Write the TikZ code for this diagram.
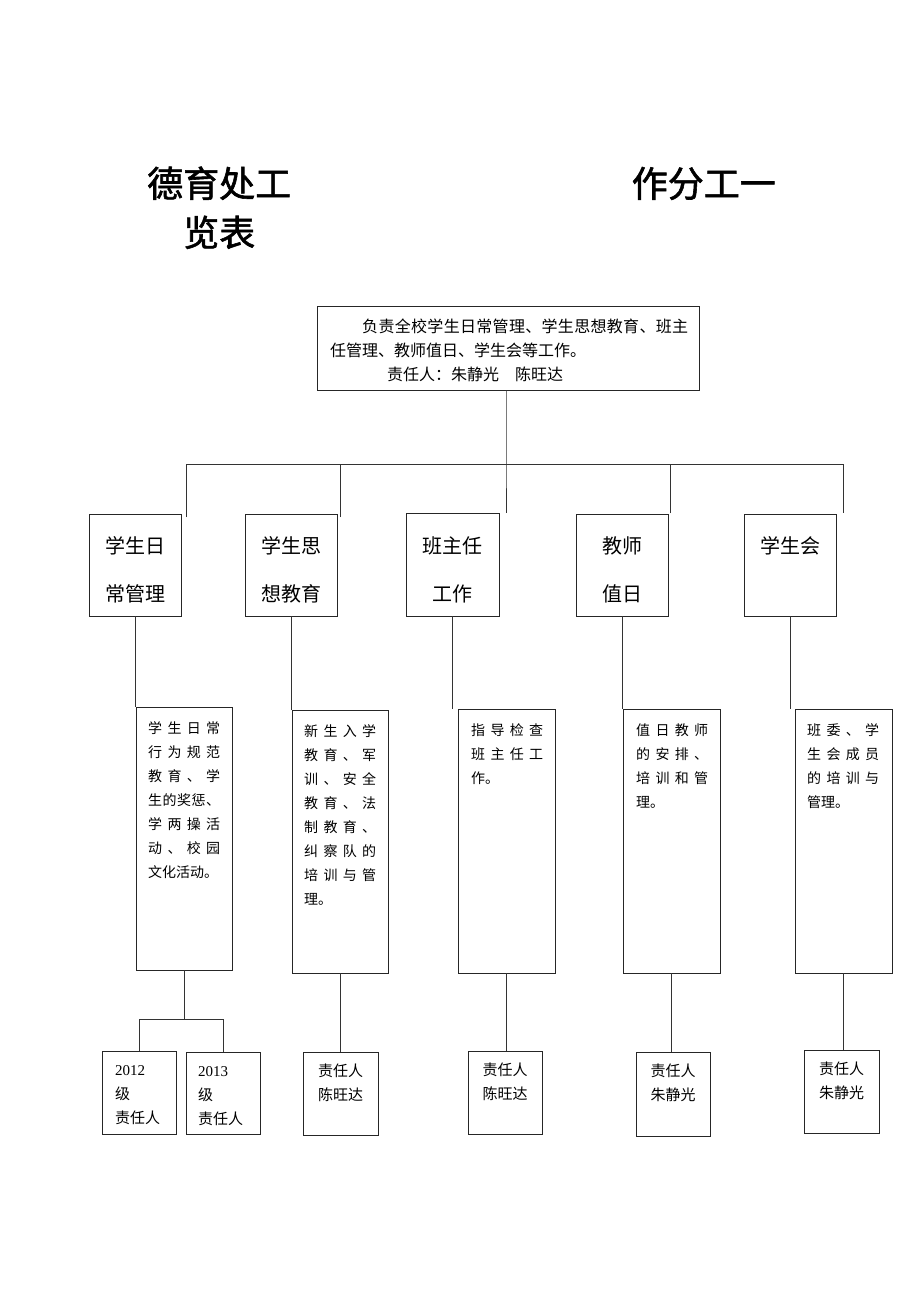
\documentclass[tikz,border=0pt]{standalone}
\usepackage{fontspec}
\setmainfont{Liberation Serif}
\newfontfamily\cjk{Noto Sans CJK SC}
\newfontfamily\cjkt[FakeBold=1.6]{Noto Sans CJK SC}
\makeatletter
\newcommand\jl[2]{\hbox to #1{\def\jl@sep{}\@tfor\jl@c:=#2\do{\jl@sep\jl@c\def\jl@sep{\hfil}}}}
\makeatother
\newcommand\jj[1]{\jl{72pt}{#1}}
\newcommand\bx[5]{\node[box, minimum width={#4-#2}, minimum height={#5-#3}] (#1) at ({(#2+#4)/2},{(#3+#5)/2}) {};}
\begin{document}
\begin{tikzpicture}[x=1pt,y=-1pt,
  box/.style={draw=black!85, line width=1pt, inner sep=0pt, outer sep=0pt},
  ln/.style={draw=black!80, line width=1pt},
  ttl/.style={font=\cjkt\fontsize{36}{40}\selectfont, inner sep=0pt},
  toptxt/.style={font=\cjk\fontsize{16}{24}\selectfont, inner sep=0pt, anchor=base west},
  lvtwo/.style={font=\cjk\fontsize{20}{24}\selectfont, inner sep=0pt, anchor=base},
  lvthree/.style={font=\cjk\fontsize{14}{24}\selectfont, inner sep=0pt, anchor=base west},
  lvfour/.style={font=\cjk\fontsize{15}{24}\selectfont, inner sep=0pt},
]
\fill[white] (0,0) rectangle (920,1302);
\useasboundingbox (0,0) rectangle (920,1302);

% title
\node[ttl, anchor=base west] (ti1) at (147,197) {德育处工};
\node[ttl, anchor=base east] (ti2) at (776,197) {作分工一};
\node[ttl, anchor=base west] (ti3) at (183,246) {览表};

% boxes
\bx{T}{317}{306}{699}{390}
\bx{b1}{89}{514}{181}{616}
\bx{b2}{245}{514}{337}{616}
\bx{b3}{406}{513}{499}{616}
\bx{b4}{576}{514}{668}{616}
\bx{b5}{744}{514}{836}{616}
\bx{c1}{136}{707}{232}{970}
\bx{c2}{292}{710}{388}{973}
\bx{c3}{458}{709}{555}{973}
\bx{c4}{623}{709}{720}{973}
\bx{c5}{795}{709}{892}{973}
\bx{e1a}{102}{1051}{176}{1134}
\bx{e1b}{186}{1052}{260}{1134}
\bx{e2}{303}{1052}{378}{1135}
\bx{e3}{468}{1051}{542}{1134}
\bx{e4}{636}{1052}{710}{1136}
\bx{e5}{804}{1050}{879}{1133}

% top text
\node[toptxt] (tt1) at (362,332) {\jl{326pt}{负责全校学生日常管理、学生思想教育、班主}};
\node[toptxt] (tt2) at (330,356) {任管理、教师值日、学生会等工作。};
\node[toptxt] (tt3) at (387,380) {责任人：朱静光　陈旺达};

% level 2 text
\node[lvtwo] (b1t1) at (135,553) {学生日};
\node[lvtwo] (b1t2) at (135,601) {常管理};
\node[lvtwo] (b2t1) at (291,553) {学生思};
\node[lvtwo] (b2t2) at (291,601) {想教育};
\node[lvtwo] (b3t1) at (452.5,553) {班主任};
\node[lvtwo] (b3t2) at (452.5,601) {工作};
\node[lvtwo] (b4t1) at (622,553) {教师};
\node[lvtwo] (b4t2) at (622,601) {值日};
\node[lvtwo] (b5t1) at (790,553) {学生会};

% level 3 text
\foreach \s [count=\i] in {{\jj{学生日常}},{\jj{行为规范}},{\jj{教育、学}},{\jj{生的奖惩、}},{\jj{学两操活}},{\jj{动、校园}},{文化活动。}}
  \node[lvthree] (c1t\i) at (148,{733+24*(\i-1)}) {\s};
\foreach \s [count=\i] in {{\jj{新生入学}},{\jj{教育、军}},{\jj{训、安全}},{\jj{教育、法}},{\jj{制教育、}},{\jj{纠察队的}},{\jj{培训与管}},{理。}}
  \node[lvthree] (c2t\i) at (304,{736+24*(\i-1)}) {\s};
\foreach \s [count=\i] in {{\jj{指导检查}},{\jj{班主任工}},{作。}}
  \node[lvthree] (c3t\i) at (471,{735+24*(\i-1)}) {\s};
\foreach \s [count=\i] in {{\jj{值日教师}},{\jj{的安排、}},{\jj{培训和管}},{理。}}
  \node[lvthree] (c4t\i) at (636,{735+24*(\i-1)}) {\s};
\foreach \s [count=\i] in {{\jj{班委、学}},{\jj{生会成员}},{\jj{的培训与}},{管理。}}
  \node[lvthree] (c5t\i) at (807,{735+24*(\i-1)}) {\s};

% level 4 text
\node[lvfour, anchor=base west, font=\rmfamily\fontsize{15}{24}\selectfont] (e1at1) at (115,1075) {2012};
\node[lvfour, anchor=base west] (e1at2) at (115,1099) {级};
\node[lvfour, anchor=base west] (e1at3) at (115,1123) {责任人};
\node[lvfour, anchor=base west, font=\rmfamily\fontsize{15}{24}\selectfont] (e1bt1) at (198,1076) {2013};
\node[lvfour, anchor=base west] (e1bt2) at (198,1100) {级};
\node[lvfour, anchor=base west] (e1bt3) at (198,1124) {责任人};
\node[lvfour, anchor=base] (e2t1) at (340.5,1076) {责任人};
\node[lvfour, anchor=base] (e2t2) at (340.5,1100) {陈旺达};
\node[lvfour, anchor=base] (e3t1) at (505,1075) {责任人};
\node[lvfour, anchor=base] (e3t2) at (505,1099) {陈旺达};
\node[lvfour, anchor=base] (e4t1) at (673,1076) {责任人};
\node[lvfour, anchor=base] (e4t2) at (673,1100) {朱静光};
\node[lvfour, anchor=base] (e5t1) at (841.5,1074) {责任人};
\node[lvfour, anchor=base] (e5t2) at (841.5,1098) {朱静光};

% connectors top
\coordinate (hub) at (506,464);
\coordinate (d1) at (186,517);
\coordinate (d2) at (340,517);
\coordinate (d3) at (506,513);
\coordinate (d4) at (670,513);
\coordinate (d5) at (843,513);
\draw[ln] (T.south -| hub) -- (hub) -- (d3);
\draw[ln] (d1) |- (d5 |- hub) -- (d5);
\draw[ln] (d2) -- (d2 |- hub);
\draw[ln] (d4) -- (d4 |- hub);

% level 2 -> 3
\draw[ln] (b1.south) -- (b1.south |- c1.north);
\draw[ln] (b2.south) -- (b2.south |- c2.north);
\draw[ln] (b3.south) -- (b3.south |- c3.north);
\draw[ln] (b4.south) -- (b4.south |- c4.north);
\draw[ln] (b5.south) -- (b5.south |- c5.north);

% level 3 -> 4
\coordinate (j1) at (186,1019);
\draw[ln] (c1.south) -- (c1.south |- j1);
\draw[ln] (e1a.north) -- (e1a.north |- j1) -- (e1b.north |- j1) -- (e1b.north);
\draw[ln] (c2.south) -- (c2.south |- e2.north);
\draw[ln] (c3.south) -- (c3.south |- e3.north);
\draw[ln] (c4.south) -- (c4.south |- e4.north);
\draw[ln] (c5.south) -- (c5.south |- e5.north);
\end{tikzpicture}
\end{document}
